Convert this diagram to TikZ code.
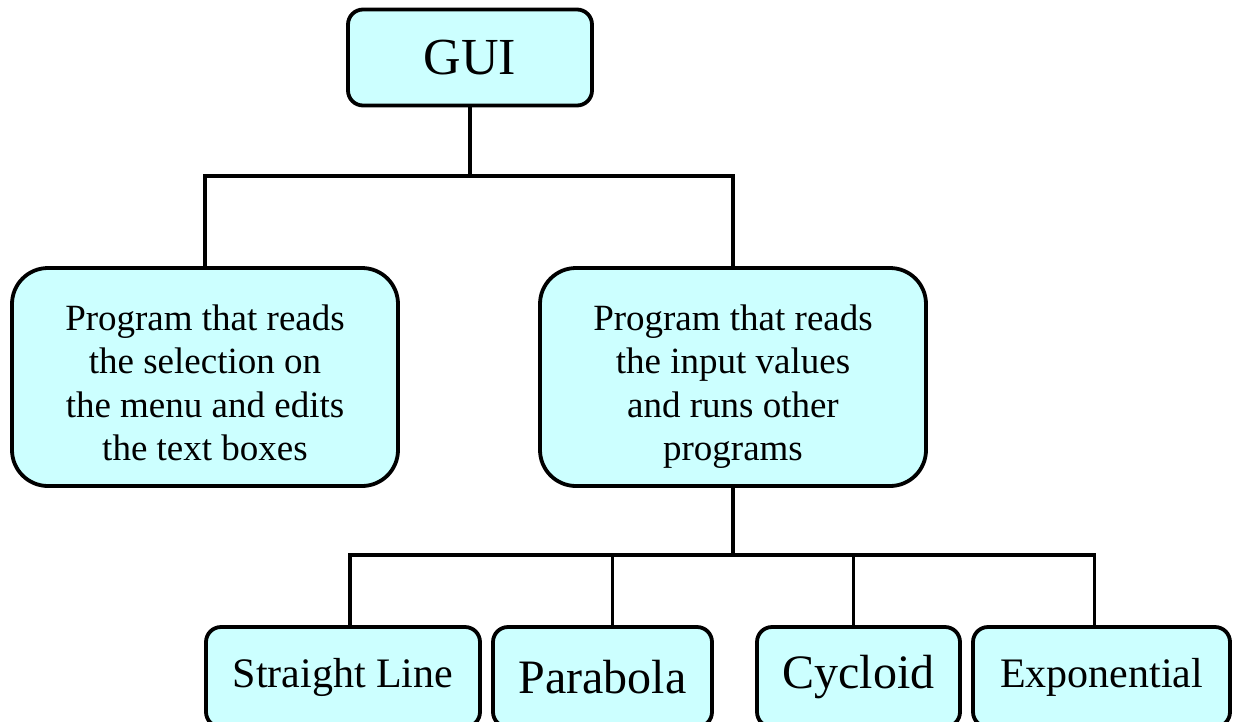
\documentclass[tikz,border=0pt]{standalone}
\usepackage{fontspec}
\setmainfont{Liberation Serif}
\usepackage{tikz}
\usetikzlibrary{positioning,calc}
\definecolor{boxcyan}{HTML}{CCFFFF}
\newcommand{\firstline}{\rule{0pt}{47pt}}
\newcommand{\lastline}{\rule[-10pt]{0pt}{0pt}}

\begin{document}
\begin{tikzpicture}[
    x=1pt, y=-1pt,
    box/.style={rectangle, draw, line width=3.8pt, fill=boxcyan, align=center, inner sep=0pt},
    top_box/.style={box, rounded corners=15pt, minimum width=244pt, minimum height=96pt, font=\fontsize{52}{60}\selectfont},
    prog_box/.style={box, rounded corners=36pt, minimum width=386pt, minimum height=218pt, font=\fontsize{37}{43.5}\selectfont},
    leaf/.style={box, rounded corners=15pt, minimum height=100pt},
    conn/.style={line width=3.3pt},
]
    \useasboundingbox (0,0) rectangle (1238,721);

    % Top level
    \node[top_box] (gui) at (470,57.5) {GUI};

    % Second level
    \node[prog_box] (menu_prog) at (205,377) {\firstline Program that reads\\the selection on\\the menu and edits\\the text boxes\lastline};
    \node[prog_box] (run_prog) at (733,377) {\firstline Program that reads\\the input values\\and runs other\\programs\lastline};

    % Curve programs
    \node[leaf, minimum width=274pt, font=\fontsize{42}{48}\selectfont] (straight) at (343,677) {Straight Line};
    \node[leaf, minimum width=219pt, font=\fontsize{48}{54}\selectfont] (parabola) at (602.5,677) {Parabola};
    \node[leaf, minimum width=203pt, font=\fontsize{48}{54}\selectfont] (cycloid) at (858.5,677) {Cycloid};
    \node[leaf, minimum width=257pt, font=\fontsize{42}{48}\selectfont] (expo) at (1101.5,677) {Exponential};

    \coordinate (bus_top) at (470,176);
    \coordinate (bus_low) at (733,555);

    \draw[conn] (gui) -- (bus_top);
    \draw[conn] (menu_prog.north) |- (bus_top) -| (run_prog.north);

    \draw[conn] (run_prog) -- (bus_low);
    \draw[conn] ([xshift=7pt]straight.north) |- ([xshift=-7pt]expo.north |- bus_low) -- ([xshift=-7pt]expo.north);
    \draw[conn] ([xshift=10pt]parabola.north) -- ([xshift=10pt]parabola.north |- bus_low);
    \draw[conn] ([xshift=-5pt]cycloid.north) -- ([xshift=-5pt]cycloid.north |- bus_low);

\end{tikzpicture}
\end{document}
